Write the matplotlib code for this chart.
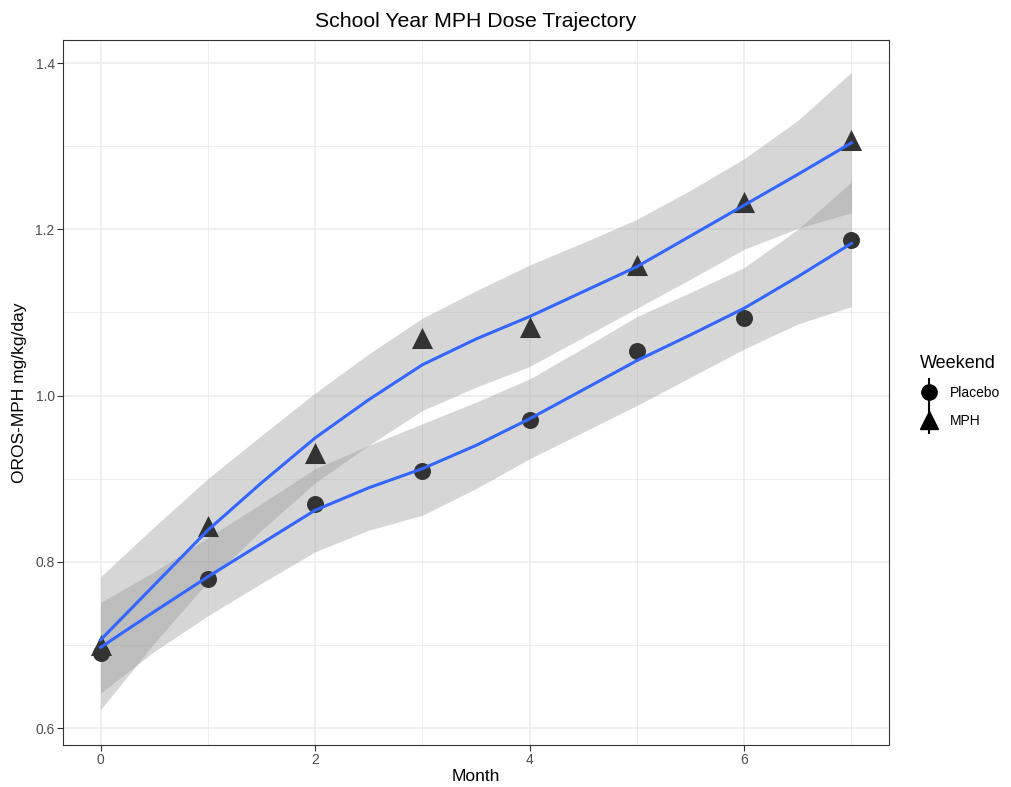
import matplotlib
matplotlib.use("Agg")
import matplotlib.pyplot as plt
from matplotlib.lines import Line2D
from matplotlib.legend_handler import HandlerTuple
from matplotlib.ticker import MultipleLocator

plt.rcParams['font.family'] = ['Liberation Sans', 'DejaVu Sans']

# observed monthly means
months = [0, 1, 2, 3, 4, 5, 6, 7]
placebo_pts = [0.690, 0.779, 0.870, 0.909, 0.971, 1.054, 1.093, 1.187]
mph_pts = [0.700, 0.843, 0.931, 1.069, 1.082, 1.157, 1.233, 1.307]

# loess fit and confidence band
fit_x = [0, 0.5, 1, 1.5, 2, 2.5, 3, 3.5, 4, 4.5, 5, 5.5, 6, 6.5, 7]
mph_fit = [0.706, 0.772, 0.838, 0.895, 0.949, 0.995, 1.037, 1.068, 1.095, 1.125, 1.155, 1.192, 1.229, 1.266, 1.304]
mph_lo = [0.622, 0.702, 0.776, 0.838, 0.895, 0.940, 0.982, 1.010, 1.035, 1.070, 1.105, 1.140, 1.176, 1.201, 1.220]
mph_hi = [0.782, 0.842, 0.900, 0.952, 1.003, 1.050, 1.093, 1.126, 1.157, 1.184, 1.212, 1.247, 1.285, 1.331, 1.389]
pla_fit = [0.697, 0.740, 0.782, 0.822, 0.862, 0.889, 0.912, 0.940, 0.972, 1.007, 1.042, 1.073, 1.105, 1.143, 1.183]
pla_lo = [0.642, 0.692, 0.735, 0.774, 0.812, 0.838, 0.856, 0.888, 0.924, 0.956, 0.988, 1.022, 1.056, 1.086, 1.107]
pla_hi = [0.751, 0.788, 0.829, 0.870, 0.912, 0.940, 0.966, 0.992, 1.020, 1.057, 1.095, 1.124, 1.154, 1.200, 1.257]

fig = plt.figure(figsize=(10.12, 7.87), dpi=100)
ax = fig.add_axes([0.0623, 0.0534, 0.8162, 0.8958])

ax.fill_between(fit_x, pla_lo, pla_hi, color='#999999', alpha=0.4, lw=0, zorder=2)
ax.fill_between(fit_x, mph_lo, mph_hi, color='#999999', alpha=0.4, lw=0, zorder=2)

ax.scatter(months, placebo_pts, marker='o', s=150, color='#333333', lw=0, zorder=3)
ax.scatter(months, mph_pts, marker='^', s=230, color='#333333', lw=0, zorder=3)

ax.plot(fit_x, pla_fit, color='#3366FF', lw=2.2, zorder=4)
ax.plot(fit_x, mph_fit, color='#3366FF', lw=2.2, zorder=4)

ax.set_xlim(-0.35, 7.35)
ax.set_ylim(0.5796, 1.4277)
ax.xaxis.set_major_locator(MultipleLocator(2))
ax.xaxis.set_minor_locator(MultipleLocator(1))
ax.yaxis.set_major_locator(MultipleLocator(0.2))
ax.yaxis.set_minor_locator(MultipleLocator(0.1))
ax.set_yticks([0.6, 0.8, 1.0, 1.2, 1.4])
ax.set_yticklabels(['0.6', '0.8', '1.0', '1.2', '1.4'])

ax.grid(which='major', color='#EBEBEB', lw=1.1, zorder=0)
ax.grid(which='minor', color='#EBEBEB', lw=0.6, zorder=0)
ax.set_axisbelow(True)
for sp in ax.spines.values():
    sp.set_color('#333333')
    sp.set_linewidth(0.8)
ax.tick_params(which='major', length=4, color='#333333', labelsize=10,
               labelcolor='#4D4D4D', pad=2)
ax.tick_params(which='minor', length=0)

ax.set_xlabel('Month', fontsize=12.5, labelpad=1)
ax.set_ylabel('OROS-MPH mg/kg/day', fontsize=12.5, labelpad=6)
ax.set_title('School Year MPH Dose Trajectory', fontsize=15.3, pad=9)

h_pla = (Line2D([], [], marker='|', color='black', ms=20, mew=1.5, ls='none'),
         Line2D([], [], marker='o', color='black', ms=11, ls='none'))
h_mph = (Line2D([], [], marker='|', color='black', ms=20, mew=1.5, ls='none'),
         Line2D([], [], marker='^', color='black', ms=13, ls='none'))
leg = fig.legend([h_pla, h_mph], ['Placebo', 'MPH'], title='Weekend',
                 handler_map={tuple: HandlerTuple(ndivide=1)},
                 loc='center left', bbox_to_anchor=(0.897, 0.503), frameon=False,
                 fontsize=10, title_fontsize=13, handlelength=1.2, handletextpad=0.9,
                 labelspacing=1.0)
leg._legend_box.align = 'left'

fig.savefig('out.png', dpi=100)
